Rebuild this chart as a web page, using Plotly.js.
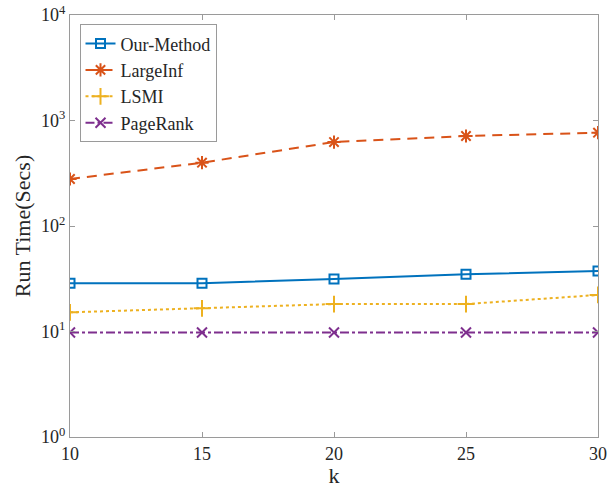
<!DOCTYPE html>
<html>
<head>
<meta charset="utf-8">
<script src="https://cdn.plot.ly/plotly-3.0.1.min.js"></script>
<style>body{margin:0;padding:0;background:#fff;} #chart{width:616px;height:488px;}</style>
</head>
<body>
<div id="chart"></div>
<script>
const kValues = [10, 15, 20, 25, 30];
const ourMethod = [28.6, 28.6, 31.5, 34.9, 37.4];
const largeInf = [279, 398, 625, 713, 766];
const lsmi = [15.2, 16.6, 18.2, 18.2, 22.2];
const pageRank = [9.8, 9.8, 9.8, 9.8, 9.8];
const seriesNames = ['Our-Method', 'LargeInf', 'LSMI', 'PageRank'];
const yTickVals = [1, 10, 100, 1000, 10000];
const yTickText = ['10<sup>0</sup>', '10<sup>1</sup>', '10<sup>2</sup>', '10<sup>3</sup>', '10<sup>4</sup>'];
const xTickVals = [10, 15, 20, 25, 30];

const font = 'Liberation Serif, Times New Roman, serif';

const traces = [
  {x: kValues, y: ourMethod, name: seriesNames[0], mode: 'lines+markers',
   line: {color: '#0072BD', width: 2, dash: 'solid'},
   marker: {symbol: 'square-open', size: 9, color: '#0072BD', line: {width: 2, color: '#0072BD'}}},
  {x: kValues, y: largeInf, name: seriesNames[1], mode: 'lines+markers',
   line: {color: '#D95319', width: 2, dash: '10px,7px'},
   marker: {symbol: 'asterisk-open', size: 11, color: '#D95319', line: {width: 2, color: '#D95319'}}},
  {x: kValues, y: lsmi, name: seriesNames[2], mode: 'lines+markers',
   line: {color: '#EDB120', width: 2, dash: 'dot'},
   marker: {symbol: 'cross-thin-open', size: 12, color: '#EDB120', line: {width: 2, color: '#EDB120'}}},
  {x: kValues, y: pageRank, name: seriesNames[3], mode: 'lines+markers',
   line: {color: '#7E2F8E', width: 2, dash: 'dashdot'},
   marker: {symbol: 'x-thin-open', size: 10, color: '#7E2F8E', line: {width: 2, color: '#7E2F8E'}}}
];

const layout = {
  width: 616, height: 488,
  margin: {l: 70, r: 18, t: 15, b: 51},
  paper_bgcolor: '#fff', plot_bgcolor: '#fff',
  font: {family: font, size: 18, color: '#262626'},
  showlegend: true,
  legend: {x: 0.018, y: 0.978, xanchor: 'left', yanchor: 'top',
    bgcolor: '#fff', bordercolor: '#9a9a9a', borderwidth: 1,
    font: {family: font, size: 18, color: '#262626'},
    itemwidth: 30, tracegroupgap: 0},
  xaxis: {
    range: [10, 30], tickvals: xTickVals, ticks: 'inside', ticklen: 5,
    tickcolor: '#9a9a9a', showline: true, linecolor: '#9a9a9a', linewidth: 1,
    mirror: 'ticks', showgrid: false, zeroline: false,
    tickfont: {family: font, size: 18, color: '#262626'},
    title: {text: 'k', font: {family: font, size: 22, color: '#262626'}, standoff: 2}
  },
  yaxis: {
    type: 'log', range: [0, 4], tickvals: yTickVals, ticktext: yTickText,
    ticks: 'inside', ticklen: 5, tickcolor: '#9a9a9a',
    showline: true, linecolor: '#9a9a9a', linewidth: 1, mirror: 'ticks',
    showgrid: false, zeroline: false,
    tickfont: {family: font, size: 18, color: '#262626'},
    title: {text: 'Run Time(Secs)', font: {family: font, size: 22, color: '#262626'}, standoff: 4}
  }
};

Plotly.newPlot('chart', traces, layout, {displayModeBar: false, staticPlot: true});
</script>
</body>
</html>
